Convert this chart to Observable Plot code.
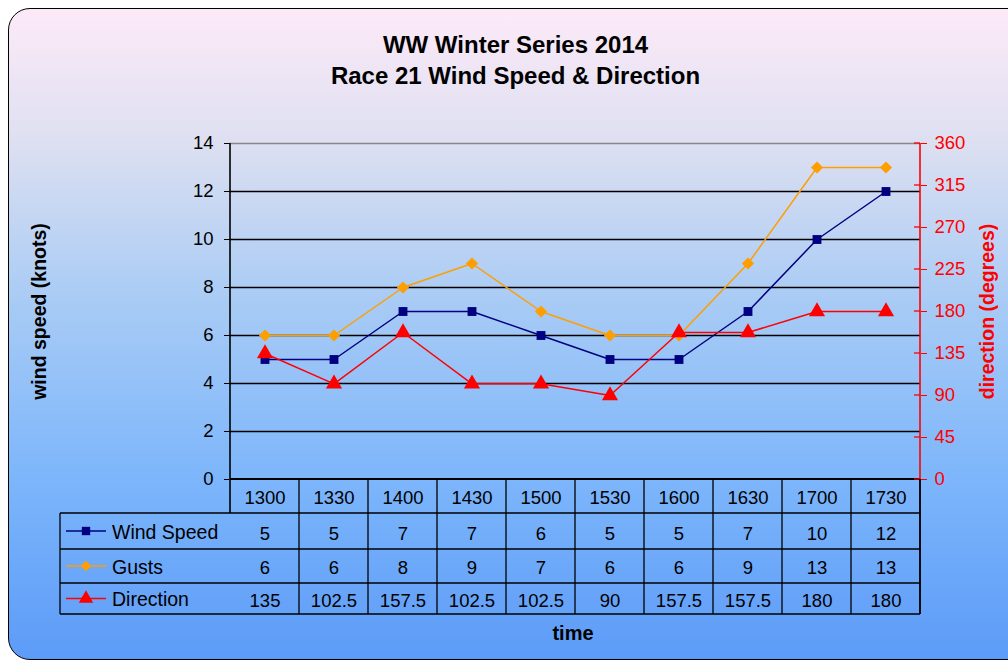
<!DOCTYPE html>
<html>
<head>
<meta charset="utf-8">
<script src="https://cdn.jsdelivr.net/npm/d3@7"></script>
<script src="https://cdn.jsdelivr.net/npm/@observablehq/plot@0.6"></script>
<style>
  html, body { margin: 0; padding: 0; background: #fff; }
  #wrap { position: relative; width: 1008px; height: 662px; overflow: hidden; }
  #bg {
    position: absolute; left: 8px; top: 8px; width: 1020px; height: 650px;
    border: 1.5px solid #000; border-radius: 22px;
    background: linear-gradient(to bottom, #fdeaf8 0%, #dee0f1 20%, #a8cbf5 45%, #7db6fb 72%, #5c9bf8 100%);
  }
  #chart { position: absolute; left: 0; top: 0; }
  svg { font-family: "Liberation Sans", Arial, sans-serif; }
</style>
</head>
<body>
<div id="wrap"><div id="bg"></div><div id="chart"></div></div>
<script>
const times = ["1300","1330","1400","1430","1500","1530","1600","1630","1700","1730"];
const windSpeed = [5,5,7,7,6,5,5,7,10,12];
const gusts = [6,6,8,9,7,6,6,9,13,13];
const direction = [135,102.5,157.5,102.5,102.5,90,157.5,157.5,180,180];
const speedTicks = [0,2,4,6,8,10,12,14];
const dirTicks = [0,45,90,135,180,225,270,315,360];
const titleLines = ["WW Winter Series 2014", "Race 21 Wind Speed & Direction"];

const data = times.map((t, i) => ({time: t, speed: windSpeed[i], gust: gusts[i], dir: direction[i]}));
const dirToY = d => d * 14 / 360;

const font = "Liberation Sans, Arial, sans-serif";
const numSize = 18.5, nameSize = 19.5, labelSize = 19.5;
const plot = Plot.plot({
  width: 1008, height: 662,
  marginLeft: 229, marginRight: 88, marginTop: 143, marginBottom: 183,
  x: {type: "band", domain: times, padding: 0, axis: null},
  y: {domain: [0, 14], axis: null},
  style: {background: "transparent", fontFamily: font, fontSize: "18px", overflow: "visible"},
  marks: [
    Plot.ruleY(speedTicks.filter(v => v > 0 && v < 14), {stroke: "#000", strokeWidth: 1.4}),
    Plot.ruleY([14], {stroke: "#888", strokeWidth: 1.4}),
    Plot.axisY(speedTicks, {anchor: "left", tickSize: 5, tickPadding: 11, fontSize: numSize, fill: "#000", label: null}),
    Plot.axisY(dirTicks.map(dirToY), {anchor: "right", tickSize: 6, tickPadding: 8, fontSize: numSize,
      stroke: "#ff0000", fill: "#ff0000", label: null, tickFormat: d => String(Math.round(d * 360 / 14))}),
    // series
    Plot.line(data, {x: "time", y: "gust", stroke: "#ff9e00", strokeWidth: 1.5}),
    Plot.dot(data, {x: "time", y: "gust", symbol: "diamond2", r: 5.5, fill: "#ff9e00", stroke: "none"}),
    Plot.line(data, {x: "time", y: "speed", stroke: "#000080", strokeWidth: 1.5}),
    Plot.dot(data, {x: "time", y: "speed", symbol: "square", r: 5, fill: "#000080", stroke: "none"}),
    Plot.line(data, {x: "time", y: d => dirToY(d.dir), stroke: "#ff0000", strokeWidth: 1.5}),
    Plot.dot(data, {x: "time", y: d => dirToY(d.dir), symbol: "triangle", r: 6, fill: "#ff0000", stroke: "none"}),
    // table texts
    Plot.text(data, {x: "time", text: "time", frameAnchor: "bottom", lineAnchor: "middle", dy: 19, fontSize: numSize, fill: "#000"}),
    Plot.text(data, {x: "time", text: d => String(d.speed), frameAnchor: "bottom", lineAnchor: "middle", dy: 55, fontSize: numSize, fill: "#000"}),
    Plot.text(data, {x: "time", text: d => String(d.gust), frameAnchor: "bottom", lineAnchor: "middle", dy: 89, fontSize: numSize, fill: "#000"}),
    Plot.text(data, {x: "time", text: d => String(d.dir), frameAnchor: "bottom", lineAnchor: "middle", dy: 122, fontSize: numSize, fill: "#000"}),
    // titles & labels
    Plot.text([titleLines[0]], {frameAnchor: "top", lineAnchor: "middle", dx: -59.5, dy: -98, fontSize: 24, fontWeight: "bold", fill: "#000"}),
    Plot.text([titleLines[1]], {frameAnchor: "top", lineAnchor: "middle", dx: -59.5, dy: -67, fontSize: 24, fontWeight: "bold", fill: "#000"}),
    Plot.text(["wind speed (knots)"], {frameAnchor: "left", textAnchor: "middle", lineAnchor: "middle", dx: -190, rotate: -90, fontSize: labelSize, fontWeight: "bold", fill: "#000"}),
    Plot.text(["direction (degrees)"], {frameAnchor: "right", textAnchor: "middle", lineAnchor: "middle", dx: 67, rotate: -90, fontSize: labelSize, fontWeight: "bold", fill: "#ff0000"}),
    Plot.text(["time"], {frameAnchor: "bottom", lineAnchor: "middle", dx: -2, dy: 154, fontSize: 20, fontWeight: "bold", fill: "#000"})
  ]
});
document.getElementById("chart").appendChild(plot);

// axis lines, table grid and legend keys, positioned from Plot's own scales
const xs = plot.scale("x"), ys = plot.scale("y");
const left = xs.apply(times[0]);
const right = xs.apply(times[times.length - 1]) + xs.bandwidth;
const y0 = ys.apply(0), yTop = ys.apply(14);
const rowEdges = [0, 34, 70, 104, 135].map(o => y0 + o);
const tableLeft = 60;
const svg = d3.select(plot);
const g = svg.append("g").attr("fill", "none");
const line = (x1, y1, x2, y2, stroke, w) => g.append("line").attr("x1", x1).attr("y1", y1).attr("x2", x2).attr("y2", y2)
  .attr("stroke", stroke).attr("stroke-width", w);
// left axis and bottom axis
line(left, yTop, left, rowEdges[1], "#000", 1.6);
line(left, y0, right, y0, "#000", 1.8);
// right axis (red) with crossing ticks
line(right, yTop, right, y0, "#ff0000", 1.6);
dirTicks.forEach(v => line(right - 6, ys.apply(dirToY(v)), right, ys.apply(dirToY(v)), "#ff0000", 1.3));
// table grid
for (let i = 1; i < rowEdges.length; i++) line(tableLeft, rowEdges[i], right, rowEdges[i], "#000", 1.3);
line(tableLeft, rowEdges[1], tableLeft, rowEdges[4], "#000", 1.3);
times.forEach(t => line(xs.apply(t) + xs.bandwidth, y0, xs.apply(t) + xs.bandwidth, rowEdges[4], "#000", 1.3));
line(right, y0, right, rowEdges[4], "#000", 1.6);
// legend keys
const legend = [
  {name: "Wind Speed", color: "#000080", symbol: d3.symbolSquare, size: 70},
  {name: "Gusts", color: "#ff9e00", symbol: d3.symbolDiamond2, size: 70},
  {name: "Direction", color: "#ff0000", symbol: d3.symbolTriangle, size: 90}
];
legend.forEach((L, i) => {
  const cy = (rowEdges[i + 1] + rowEdges[i + 2]) / 2;
  line(tableLeft + 6, cy, tableLeft + 46, cy, L.color, 1.5);
  g.append("path").attr("d", d3.symbol(L.symbol, L.size)()).attr("transform", `translate(${tableLeft + 26},${cy})`)
    .attr("fill", L.color);
  svg.append("text").attr("x", tableLeft + 52).attr("y", cy).attr("dy", "0.4em")
    .attr("text-anchor", "start").attr("font-size", nameSize).attr("fill", "#000").attr("font-family", font).text(L.name);
});
</script>
</body>
</html>
